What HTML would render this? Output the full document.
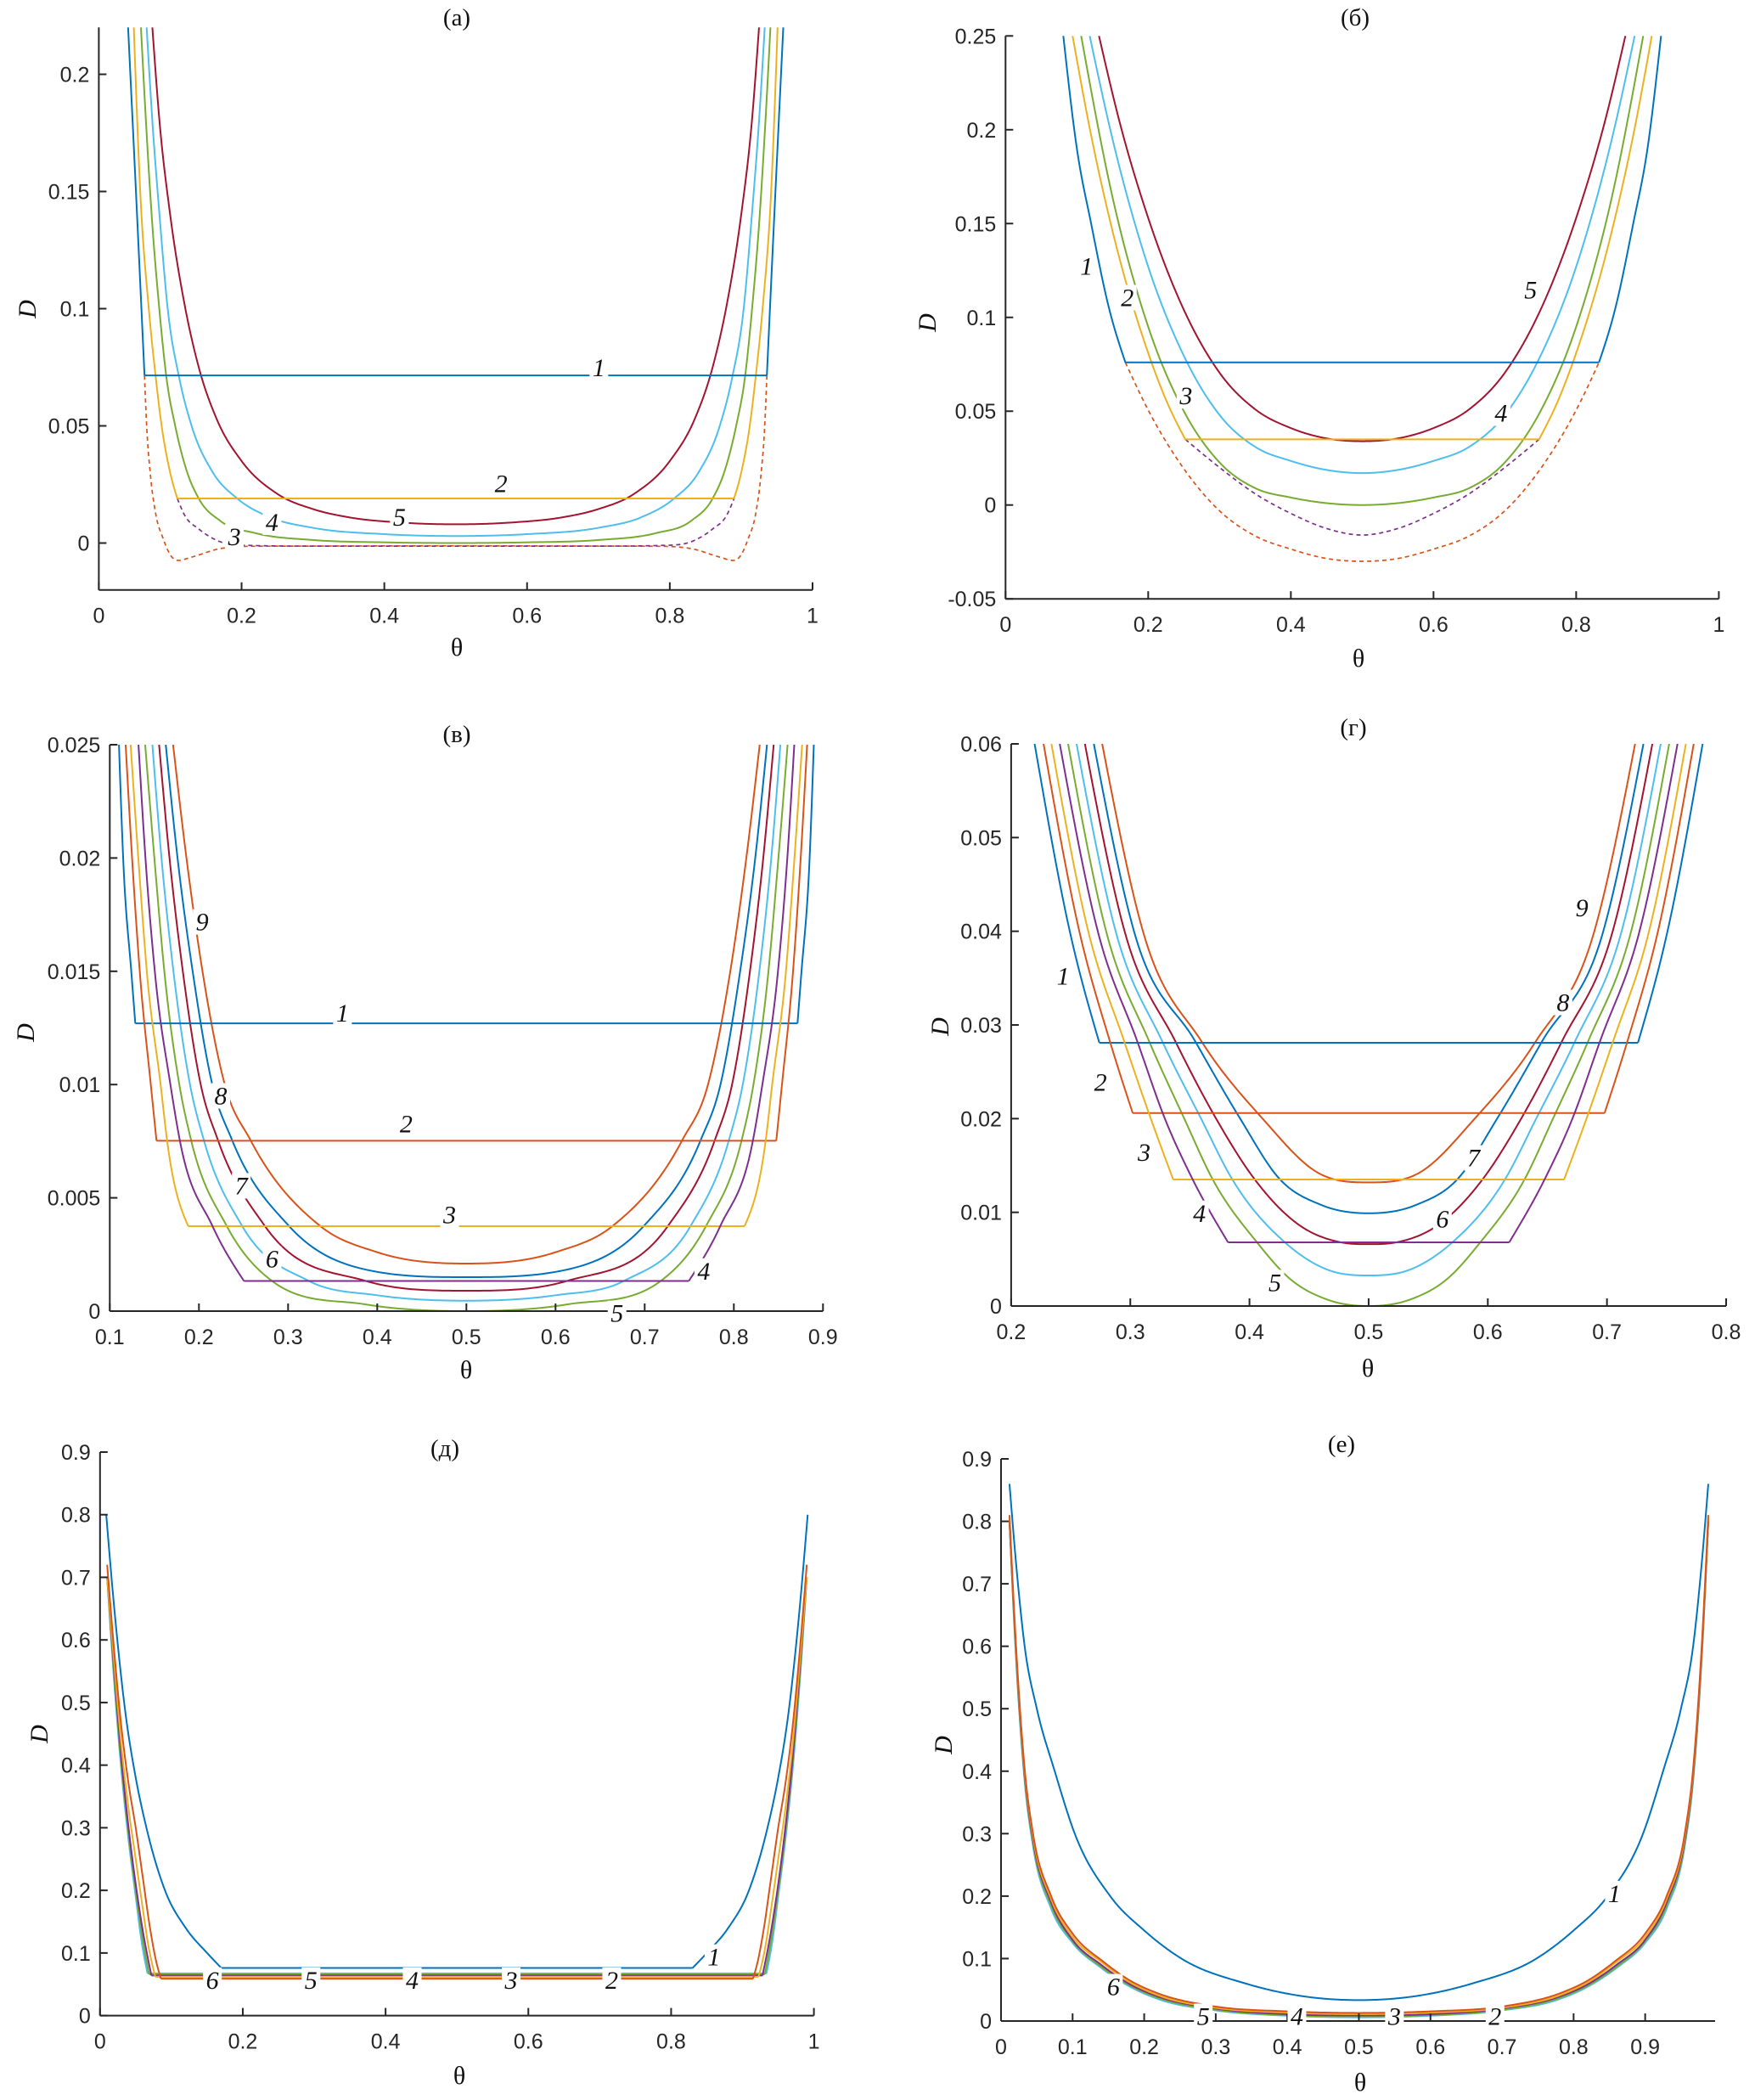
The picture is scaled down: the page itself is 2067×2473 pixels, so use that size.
<!DOCTYPE html>
<html><head><meta charset="utf-8"><style>
html,body{margin:0;padding:0;background:#fff;}
svg{display:block;}
</style></head>
<body>
<svg id="fig" xmlns="http://www.w3.org/2000/svg" width="2067" height="2473" viewBox="0 0 2067 2473">
<rect x="0" y="0" width="2067" height="2473" fill="#fff"/>
</svg>
<script>
// ---------- tick data ----------
const aXTicks=[0,0.2,0.4,0.6,0.8,1]; const aXLabels=['0','0.2','0.4','0.6','0.8','1'];
const aYTicks=[0,0.05,0.1,0.15,0.2]; const aYLabels=['0','0.05','0.1','0.15','0.2'];
const bXTicks=[0,0.2,0.4,0.6,0.8,1]; const bXLabels=['0','0.2','0.4','0.6','0.8','1'];
const bYTicks=[-0.05,0,0.05,0.1,0.15,0.2,0.25]; const bYLabels=['-0.05','0','0.05','0.1','0.15','0.2','0.25'];
const cXTicks=[0.1,0.2,0.3,0.4,0.5,0.6,0.7,0.8,0.9]; const cXLabels=['0.1','0.2','0.3','0.4','0.5','0.6','0.7','0.8','0.9'];
const cYTicks=[0,0.005,0.01,0.015,0.02,0.025]; const cYLabels=['0','0.005','0.01','0.015','0.02','0.025'];
const dXTicks=[0.2,0.3,0.4,0.5,0.6,0.7,0.8]; const dXLabels=['0.2','0.3','0.4','0.5','0.6','0.7','0.8'];
const dYTicks=[0,0.01,0.02,0.03,0.04,0.05,0.06]; const dYLabels=['0','0.01','0.02','0.03','0.04','0.05','0.06'];
const eXTicks=[0,0.2,0.4,0.6,0.8,1]; const eXLabels=['0','0.2','0.4','0.6','0.8','1'];
const eYTicks=[0,0.1,0.2,0.3,0.4,0.5,0.6,0.7,0.8,0.9]; const eYLabels=['0','0.1','0.2','0.3','0.4','0.5','0.6','0.7','0.8','0.9'];
const fXTicks=[0,0.1,0.2,0.3,0.4,0.5,0.6,0.7,0.8,0.9]; const fXLabels=['0','0.1','0.2','0.3','0.4','0.5','0.6','0.7','0.8','0.9'];
const fYTicks=eYTicks; const fYLabels=eYLabels;

// ---------- series data: half curves (left side down to theta=0.5, mirrored) ----------
// panel (a)
const aC1Arm=[[0.041,0.22],[0.052,0.15],[0.064,0.0715]];
const aC2Arm=[[0.049,0.22],[0.058,0.15],[0.07,0.1],[0.08,0.07],[0.088,0.05],[0.1,0.03],[0.11,0.019]];
const aC3=[[0.059,0.22],[0.066,0.18],[0.074,0.14],[0.0847,0.1],[0.095,0.07],[0.107,0.05],[0.124,0.03],[0.14,0.019],[0.17,0.0095],[0.22,0.0042],[0.3,0.0013],[0.4,0.0003],[0.5,0]];
const aC4=[[0.067,0.22],[0.075,0.18],[0.085,0.14],[0.0965,0.1],[0.113,0.07],[0.13,0.05],[0.16,0.03],[0.194,0.019],[0.24,0.011],[0.3,0.0065],[0.4,0.0038],[0.5,0.003]];
const aC5=[[0.075,0.22],[0.085,0.18],[0.1,0.14],[0.12,0.102],[0.14,0.075],[0.165,0.053],[0.2,0.035],[0.25,0.021],[0.3,0.0145],[0.35,0.011],[0.42,0.0088],[0.5,0.008]];
const aDashOrange=[[0.064,0.0715],[0.067,0.05],[0.072,0.03],[0.08,0.012],[0.09,0.002],[0.1,-0.005],[0.111,-0.0074],[0.13,-0.006],[0.168,-0.0025],[0.21,-0.0014],[0.3,-0.0013],[0.5,-0.0012]];
const aDashPurple=[[0.11,0.019],[0.12,0.012],[0.14,0.006],[0.168,0.0008],[0.21,-0.001],[0.3,-0.0013],[0.5,-0.0013]];
// panel (б)
const bC1Arm=[[0.081,0.25],[0.1,0.19],[0.12,0.15],[0.145,0.105],[0.168,0.076]];
const bC2Arm=[[0.094,0.25],[0.12,0.197],[0.15,0.146],[0.2,0.081],[0.225,0.056],[0.252,0.035]];
const bC3=[[0.106,0.25],[0.15,0.164],[0.2,0.095],[0.25,0.05],[0.3,0.0227],[0.35,0.009],[0.4,0.004],[0.45,0.001],[0.5,0]];
const bC4=[[0.118,0.25],[0.15,0.195],[0.2,0.127],[0.25,0.0795],[0.3,0.048],[0.35,0.031],[0.4,0.0235],[0.45,0.0187],[0.5,0.017]];
const bC5=[[0.131,0.25],[0.16,0.204],[0.2,0.153],[0.25,0.104],[0.3,0.0705],[0.35,0.051],[0.4,0.041],[0.45,0.0355],[0.5,0.034]];
const bDashOrange=[[0.168,0.076],[0.2,0.0506],[0.25,0.0193],[0.3,-0.0031],[0.35,-0.0165],[0.4,-0.0235],[0.45,-0.0285],[0.5,-0.03]];
const bDashPurple=[[0.252,0.035],[0.3,0.02],[0.35,0.006],[0.4,-0.0045],[0.45,-0.0125],[0.5,-0.016]];
// panel (в)
const cC1Arm=[[0.1103,0.025],[0.115,0.02],[0.1245,0.0148],[0.1286,0.0127]];
const cC2Arm=[[0.1178,0.025],[0.125,0.02],[0.134,0.0148],[0.146,0.01],[0.1524,0.00752]];
const cC3Arm=[[0.1234,0.025],[0.132,0.02],[0.142,0.0148],[0.157,0.01],[0.1642,0.00755],[0.188,0.00375]];
const cC4Arm=[[0.1322,0.025],[0.14,0.02],[0.151,0.0148],[0.168,0.01],[0.1785,0.00755],[0.215,0.00377],[0.2505,0.00133]];
const cC5=[[0.1397,0.025],[0.15,0.02],[0.1617,0.0148],[0.178,0.01],[0.1912,0.00755],[0.231,0.00377],[0.2817,0.00134],[0.3864,0.0003],[0.5,0]];
const cC6=[[0.1478,0.025],[0.158,0.02],[0.172,0.0148],[0.19,0.01],[0.2055,0.00755],[0.2483,0.00377],[0.3229,0.00134],[0.4,0.0007],[0.5,0.00046]];
const cC7=[[0.1553,0.025],[0.167,0.02],[0.1826,0.0148],[0.202,0.01],[0.2213,0.00755],[0.2737,0.00377],[0.3864,0.00134],[0.5,0.0009]];
const cC8=[[0.1628,0.025],[0.176,0.02],[0.1937,0.0148],[0.215,0.01],[0.2372,0.00755],[0.3007,0.00377],[0.38,0.0019],[0.5,0.0015]];
const cC9=[[0.171,0.025],[0.186,0.02],[0.2048,0.0148],[0.229,0.01],[0.2578,0.00755],[0.3356,0.00377],[0.4,0.0026],[0.5,0.0021]];
// panel (г)
const dC1Arm=[[0.2197,0.06],[0.2492,0.04],[0.274,0.0281]];
const dC2Arm=[[0.2272,0.06],[0.2572,0.04],[0.283,0.0282],[0.302,0.0206]];
const dC3Arm=[[0.2338,0.06],[0.2647,0.04],[0.295,0.0282],[0.3172,0.02],[0.336,0.0135]];
const dC4Arm=[[0.2408,0.06],[0.2727,0.04],[0.306,0.0282],[0.329,0.02],[0.352,0.0136],[0.382,0.0068]];
const dC5=[[0.2478,0.06],[0.2797,0.04],[0.316,0.0282],[0.3453,0.02],[0.3688,0.0136],[0.4063,0.0068],[0.434,0.0029],[0.465,0.0007],[0.5,0]];
const dC6=[[0.2549,0.06],[0.2877,0.04],[0.327,0.0282],[0.3594,0.02],[0.3852,0.0136],[0.4297,0.0068],[0.465,0.0039],[0.5,0.00326]];
const dC7=[[0.2619,0.06],[0.2952,0.04],[0.338,0.0282],[0.372,0.02],[0.4039,0.0136],[0.44,0.0088],[0.4766,0.0068],[0.5,0.0066]];
const dC8=[[0.2694,0.06],[0.3031,0.04],[0.3547,0.0282],[0.3922,0.02],[0.425,0.0136],[0.46,0.0108],[0.5,0.0099]];
const dC9=[[0.2764,0.06],[0.3106,0.04],[0.36,0.0282],[0.411,0.02],[0.4578,0.0142],[0.5,0.0132]];
// panel (д)
const eC1Arm=[[0.0087,0.8],[0.02,0.65],[0.036,0.48],[0.05,0.38],[0.065,0.3],[0.091,0.2],[0.12,0.14],[0.15,0.1],[0.17,0.076]];
const eC2Arm=[[0.01,0.72],[0.02,0.58],[0.03,0.46],[0.04,0.37],[0.05,0.3],[0.06,0.22],[0.07,0.14],[0.078,0.09],[0.0853,0.059]];
const eC3Arm=[[0.01,0.70],[0.02,0.56],[0.03,0.43],[0.04,0.33],[0.05,0.25],[0.06,0.17],[0.068,0.11],[0.0775,0.062]];
const eC4Arm=[[0.01,0.70],[0.02,0.55],[0.03,0.41],[0.04,0.3],[0.05,0.21],[0.06,0.135],[0.072,0.064]];
const eC5Arm=[[0.01,0.70],[0.02,0.54],[0.03,0.4],[0.04,0.29],[0.05,0.2],[0.06,0.12],[0.0689,0.066]];
const eC6Arm=[[0.01,0.70],[0.02,0.53],[0.03,0.39],[0.04,0.28],[0.05,0.19],[0.058,0.12],[0.0665,0.0675]];
// panel (е)
const fC1=[[0.0118,0.86],[0.022,0.72],[0.033,0.6],[0.05,0.5],[0.075,0.4],[0.103,0.3],[0.1525,0.2],[0.2,0.145],[0.252,0.1],[0.342,0.06],[0.42,0.04],[0.5,0.0335]];
const fC2=[[0.0118,0.81],[0.02,0.62],[0.0333,0.4],[0.0447,0.3],[0.07,0.2],[0.1,0.14],[0.143,0.095],[0.18,0.065],[0.22,0.044],[0.295,0.024],[0.4,0.0155],[0.5,0.013]];
const fC3=[[0.0118,0.805],[0.02,0.615],[0.0333,0.395],[0.0447,0.295],[0.07,0.195],[0.1,0.135],[0.142,0.093],[0.18,0.062],[0.22,0.041],[0.295,0.022],[0.4,0.0135],[0.5,0.011]];
const fC4=[[0.0118,0.80],[0.02,0.61],[0.0333,0.39],[0.0447,0.29],[0.07,0.19],[0.1,0.13],[0.14,0.09],[0.18,0.059],[0.22,0.039],[0.3,0.02],[0.4,0.011],[0.5,0.009]];
const fC5=[[0.0118,0.80],[0.02,0.605],[0.0333,0.385],[0.0447,0.285],[0.07,0.185],[0.1,0.128],[0.14,0.087],[0.18,0.057],[0.22,0.037],[0.3,0.018],[0.4,0.0095],[0.5,0.0075]];
const fC6=[[0.0118,0.80],[0.02,0.6],[0.0333,0.38],[0.0447,0.28],[0.07,0.18],[0.1,0.125],[0.14,0.085],[0.18,0.055],[0.22,0.035],[0.3,0.017],[0.4,0.0085],[0.5,0.006]];

// ---------- curve labels: [text, theta, D] ----------
const aLabels=[['1',0.7006,0.0748],['2',0.5636,0.0253],['3',0.19,0.0028],['4',0.2427,0.0089],['5',0.4211,0.0111]];
const bLabels=[['1',0.1136,0.1273],['2',0.1707,0.1105],['3',0.253,0.0582],['4',0.6947,0.049],['5',0.7361,0.1147]];
const cLabels=[['1',0.361,0.01316],['2',0.4324,0.00827],['3',0.4812,0.00426],['4',0.7663,0.00177],['5',0.669,-0.0001],['6',0.282,0.0023],['7',0.2475,0.00553],['8',0.2245,0.0095],['9',0.2037,0.01718]];
const dLabels=[['1',0.2436,0.0352],['2',0.275,0.0239],['3',0.3116,0.0164],['4',0.358,0.0099],['5',0.4213,0.0025],['6',0.5619,0.0093],['7',0.5881,0.0158],['8',0.6631,0.0324],['9',0.679,0.0425]];
const eLabels=[['1',0.86,0.0934],['2',0.7168,0.0566],['3',0.5759,0.0566],['4',0.4373,0.0566],['5',0.2955,0.0566],['6',0.1574,0.0566]];
const fLabels=[['1',0.857,0.204],['2',0.6902,0.0075],['3',0.5497,0.0075],['4',0.4134,0.0075],['5',0.2826,0.0075],['6',0.157,0.055]];

const BLUE='#0072BD',ORANGE='#D95319',YELLOW='#EDB120',PURPLE='#7E2F8E',GREEN='#77AC30',CYAN='#4DBEEE',RED='#A2142F';
const NS='http://www.w3.org/2000/svg';
const svg=document.getElementById('fig');

function mk(tag,attrs,parent){const e=document.createElementNS(NS,tag);for(const k in attrs)e.setAttribute(k,attrs[k]);(parent||svg).appendChild(e);return e;}

// smooth shape-preserving cubic Hermite sampling of D(theta)
function smoothSample(pts,steps,zeroEnd){
  const n=pts.length; if(n<2)return pts.slice();
  const xs=pts.map(p=>p[0]),ys=pts.map(p=>p[1]);
  const d=[],m=new Array(n);
  for(let k=0;k<n-1;k++)d.push((ys[k+1]-ys[k])/(xs[k+1]-xs[k]));
  for(let k=1;k<n-1;k++){
    const h0=xs[k]-xs[k-1],h1=xs[k+1]-xs[k];
    if(d[k-1]*d[k]<=0){m[k]=0;continue;}
    let v=(h1*d[k-1]+h0*d[k])/(h0+h1);
    const lim=3*Math.min(Math.abs(d[k-1]),Math.abs(d[k]));
    if(Math.abs(v)>lim)v=Math.sign(v)*lim;
    m[k]=v;
  }
  m[0]=n>2?(1.5*d[0]-0.5*m[1]):d[0];
  if(m[0]*d[0]<=0)m[0]=d[0];
  m[n-1]=zeroEnd?0:(n>2?(1.5*d[n-2]-0.5*m[n-2]):d[n-2]);
  if(!zeroEnd&&m[n-1]*d[n-2]<=0)m[n-1]=d[n-2];
  const out=[];
  for(let k=0;k<n-1;k++){
    const h=xs[k+1]-xs[k];
    for(let s=0;s<steps;s++){
      const t=s/steps,t2=t*t,t3=t2*t;
      const y=(2*t3-3*t2+1)*ys[k]+(t3-2*t2+t)*h*m[k]+(-2*t3+3*t2)*ys[k+1]+(t3-t2)*h*m[k+1];
      out.push([xs[k]+t*h,y]);
    }
  }
  out.push(pts[n-1]);
  return out;
}
function mirrorFull(half){
  const back=half.slice(0,-1).reverse().map(p=>[1-p[0],p[1]]);
  return half.concat(back);
}

function makePanel(id,cfg){
  const g=mk('g',{});
  
  
  const X=v=>cfg.x0+(v-cfg.xmin)/(cfg.xmax-cfg.xmin)*(cfg.x1-cfg.x0);
  const Y=v=>cfg.yBot-(v-cfg.ymin)/(cfg.ymax-cfg.ymin)*(cfg.yBot-cfg.yTop);
  const clipId='clip-'+id;
  const cp=mk('clipPath',{id:clipId},g);
  mk('rect',{x:cfg.x0,y:cfg.yTop-1,width:cfg.x1-cfg.x0,height:cfg.yBot-cfg.yTop+1},cp);
  const plot=mk('g',{'clip-path':'url(#'+clipId+')'},g);
  
  
  function poly(pts,color,name,dashed){
    const dstr='M'+pts.map(p=>X(p[0]).toFixed(2)+','+Y(p[1]).toFixed(2)).join('L');
    const p=mk('path',{d:dstr,fill:'none',stroke:color,'stroke-width':dashed?1.7:2,'stroke-linejoin':'round','stroke-dasharray':dashed?'5 4':'none'},plot);
    
    
  }
  cfg.full.forEach(s=>poly(mirrorFull(smoothSample(s[0],30,true)),s[1],s[2],s[3]));
  cfg.arms.forEach(s=>{
    const L=smoothSample(s[0],30,false);const R=L.slice().reverse().map(p=>[1-p[0],p[1]]);
    poly(L,s[1],s[2]+'-left',false);
    poly(R,s[1],s[2]+'-right',false);
    poly([L[L.length-1],R[0]],s[1],s[2]+'-plateau',false);
  });
  const ax=mk('g',{stroke:'#262626','stroke-width':2,fill:'none'},g);
  
  
  const yl=mk('line',{x1:cfg.x0,y1:cfg.yTop,x2:cfg.x0,y2:cfg.yBot},ax);
  
  
  const xl=mk('line',{x1:cfg.x0,y1:cfg.yBot,x2:cfg.x1,y2:cfg.yBot},ax);
  
  
  cfg.xt.forEach((v,i)=>{
    const t=mk('line',{x1:X(v),y1:cfg.yBot,x2:X(v),y2:cfg.yBot-9},ax);
    
    
    const tx=mk('text',{x:X(v),y:cfg.yBot+39,'text-anchor':'middle','font-family':'"Liberation Sans",Arial,sans-serif','font-size':25,fill:'#262626',stroke:'none'},g);
    tx.textContent=cfg.xl[i];
    
    
  });
  cfg.yt.forEach((v,i)=>{
    const t=mk('line',{x1:cfg.x0,y1:Y(v),x2:cfg.x0+9,y2:Y(v)},ax);
    
    
    const tx=mk('text',{x:cfg.x0-11,y:Y(v)+9,'text-anchor':'end','font-family':'"Liberation Sans",Arial,sans-serif','font-size':25,fill:'#262626'},g);
    tx.textContent=cfg.yl[i];
    
    
  });
  cfg.labels.forEach(l=>{
    const cx=X(l[1]),cy=Y(l[2]);
    const r=mk('rect',{x:cx-11,y:cy-15,width:22,height:30,fill:'#fff'},g);
    
    
    const t=mk('text',{x:cx,y:cy+10,'text-anchor':'middle','font-family':'"Liberation Serif","Times New Roman",serif','font-style':'italic','font-size':30,fill:'#111'},g);
    t.textContent=l[0];
    
    
  });
  const ti=mk('text',{x:cfg.tx,y:cfg.ty+10,'text-anchor':'middle','font-family':'"Liberation Serif","Times New Roman","Noto Serif CJK SC",serif','font-size':29,fill:'#111'},g);
  ti.textContent=cfg.title;
  
  
  const xt=mk('text',{x:cfg.thx,y:cfg.thy+10,'text-anchor':'middle','font-family':'"Liberation Serif","Times New Roman",serif','font-size':30,fill:'#111'},g);
  xt.textContent='θ';
  
  
  const yt=mk('text',{x:0,y:0,transform:'translate('+(cfg.dx+10)+','+cfg.dy+') rotate(-90)','text-anchor':'middle','font-family':'"Liberation Serif","Times New Roman",serif','font-style':'italic','font-size':30,fill:'#111'},g);
  yt.textContent='D';
  
  
}

makePanel('a',{x0:116.4,x1:957,xmin:0,xmax:1,yTop:32.3,yBot:694.7,ymin:-0.02,ymax:0.22,
  title:'(a)',tx:538,ty:20,thx:538,thy:762,dx:32,dy:364,
  xt:aXTicks,xl:aXLabels,yt:aYTicks,yl:aYLabels,labels:aLabels,
  full:[[aDashOrange,ORANGE,'curve-1-unstable',true],[aDashPurple,PURPLE,'curve-2-unstable',true],[aC3,GREEN,'curve-3'],[aC4,CYAN,'curve-4'],[aC5,RED,'curve-5']],
  arms:[[aC2Arm,YELLOW,'curve-2'],[aC1Arm,BLUE,'curve-1']]});

makePanel('b',{x0:1184.3,x1:2024.4,xmin:0,xmax:1,yTop:42.3,yBot:705.2,ymin:-0.05,ymax:0.25,
  title:'(б)',tx:1596,ty:20,thx:1600,thy:775,dx:1092,dy:380,
  xt:bXTicks,xl:bXLabels,yt:bYTicks,yl:bYLabels,labels:bLabels,
  full:[[bDashOrange,ORANGE,'curve-1-unstable',true],[bDashPurple,PURPLE,'curve-2-unstable',true],[bC3,GREEN,'curve-3'],[bC4,CYAN,'curve-4'],[bC5,RED,'curve-5']],
  arms:[[bC2Arm,YELLOW,'curve-2'],[bC1Arm,BLUE,'curve-1']]});

makePanel('c',{x0:129.3,x1:969.3,xmin:0.1,xmax:0.9,yTop:877,yBot:1544,ymin:0,ymax:0.025,
  title:'(в)',tx:538,ty:864,thx:549,thy:1613,dx:30,dy:1216,
  xt:cXTicks,xl:cXLabels,yt:cYTicks,yl:cYLabels,labels:cLabels,
  full:[[cC5,GREEN,'curve-5'],[cC6,CYAN,'curve-6'],[cC7,RED,'curve-7'],[cC8,BLUE,'curve-8'],[cC9,ORANGE,'curve-9']],
  arms:[[cC1Arm,BLUE,'curve-1'],[cC2Arm,ORANGE,'curve-2'],[cC3Arm,YELLOW,'curve-3'],[cC4Arm,PURPLE,'curve-4']]});

makePanel('d',{x0:1190.9,x1:2033,xmin:0.2,xmax:0.8,yTop:876,yBot:1538,ymin:0,ymax:0.06,
  title:'(г)',tx:1594,ty:856,thx:1611,thy:1611,dx:1107,dy:1209,
  xt:dXTicks,xl:dXLabels,yt:dYTicks,yl:dYLabels,labels:dLabels,
  full:[[dC5,GREEN,'curve-5'],[dC6,CYAN,'curve-6'],[dC7,RED,'curve-7'],[dC8,BLUE,'curve-8'],[dC9,ORANGE,'curve-9']],
  arms:[[dC1Arm,BLUE,'curve-1'],[dC2Arm,ORANGE,'curve-2'],[dC3Arm,YELLOW,'curve-3'],[dC4Arm,PURPLE,'curve-4']]});

makePanel('e',{x0:117.8,x1:958.6,xmin:0,xmax:1,yTop:1710,yBot:2373.6,ymin:0,ymax:0.9,
  title:'(д)',tx:524,ty:1705,thx:541,thy:2444,dx:46,dy:2042,
  xt:eXTicks,xl:eXLabels,yt:eYTicks,yl:eYLabels,labels:eLabels,
  full:[],
  arms:[[eC6Arm,CYAN,'curve-6'],[eC5Arm,GREEN,'curve-5'],[eC4Arm,PURPLE,'curve-4'],[eC3Arm,YELLOW,'curve-3'],[eC2Arm,ORANGE,'curve-2'],[eC1Arm,BLUE,'curve-1']]});

makePanel('f',{x0:1179,x1:2020,xmin:0,xmax:0.9977,yTop:1718,yBot:2380,ymin:0,ymax:0.9,
  title:'(е)',tx:1580,ty:1700,thx:1602,thy:2452,dx:1111,dy:2055,
  xt:fXTicks,xl:fXLabels,yt:fYTicks,yl:fYLabels,labels:fLabels,
  full:[[fC6,CYAN,'curve-6'],[fC5,GREEN,'curve-5'],[fC4,PURPLE,'curve-4'],[fC3,YELLOW,'curve-3'],[fC2,ORANGE,'curve-2'],[fC1,BLUE,'curve-1']],
  arms:[]});
</script>
</body></html>
